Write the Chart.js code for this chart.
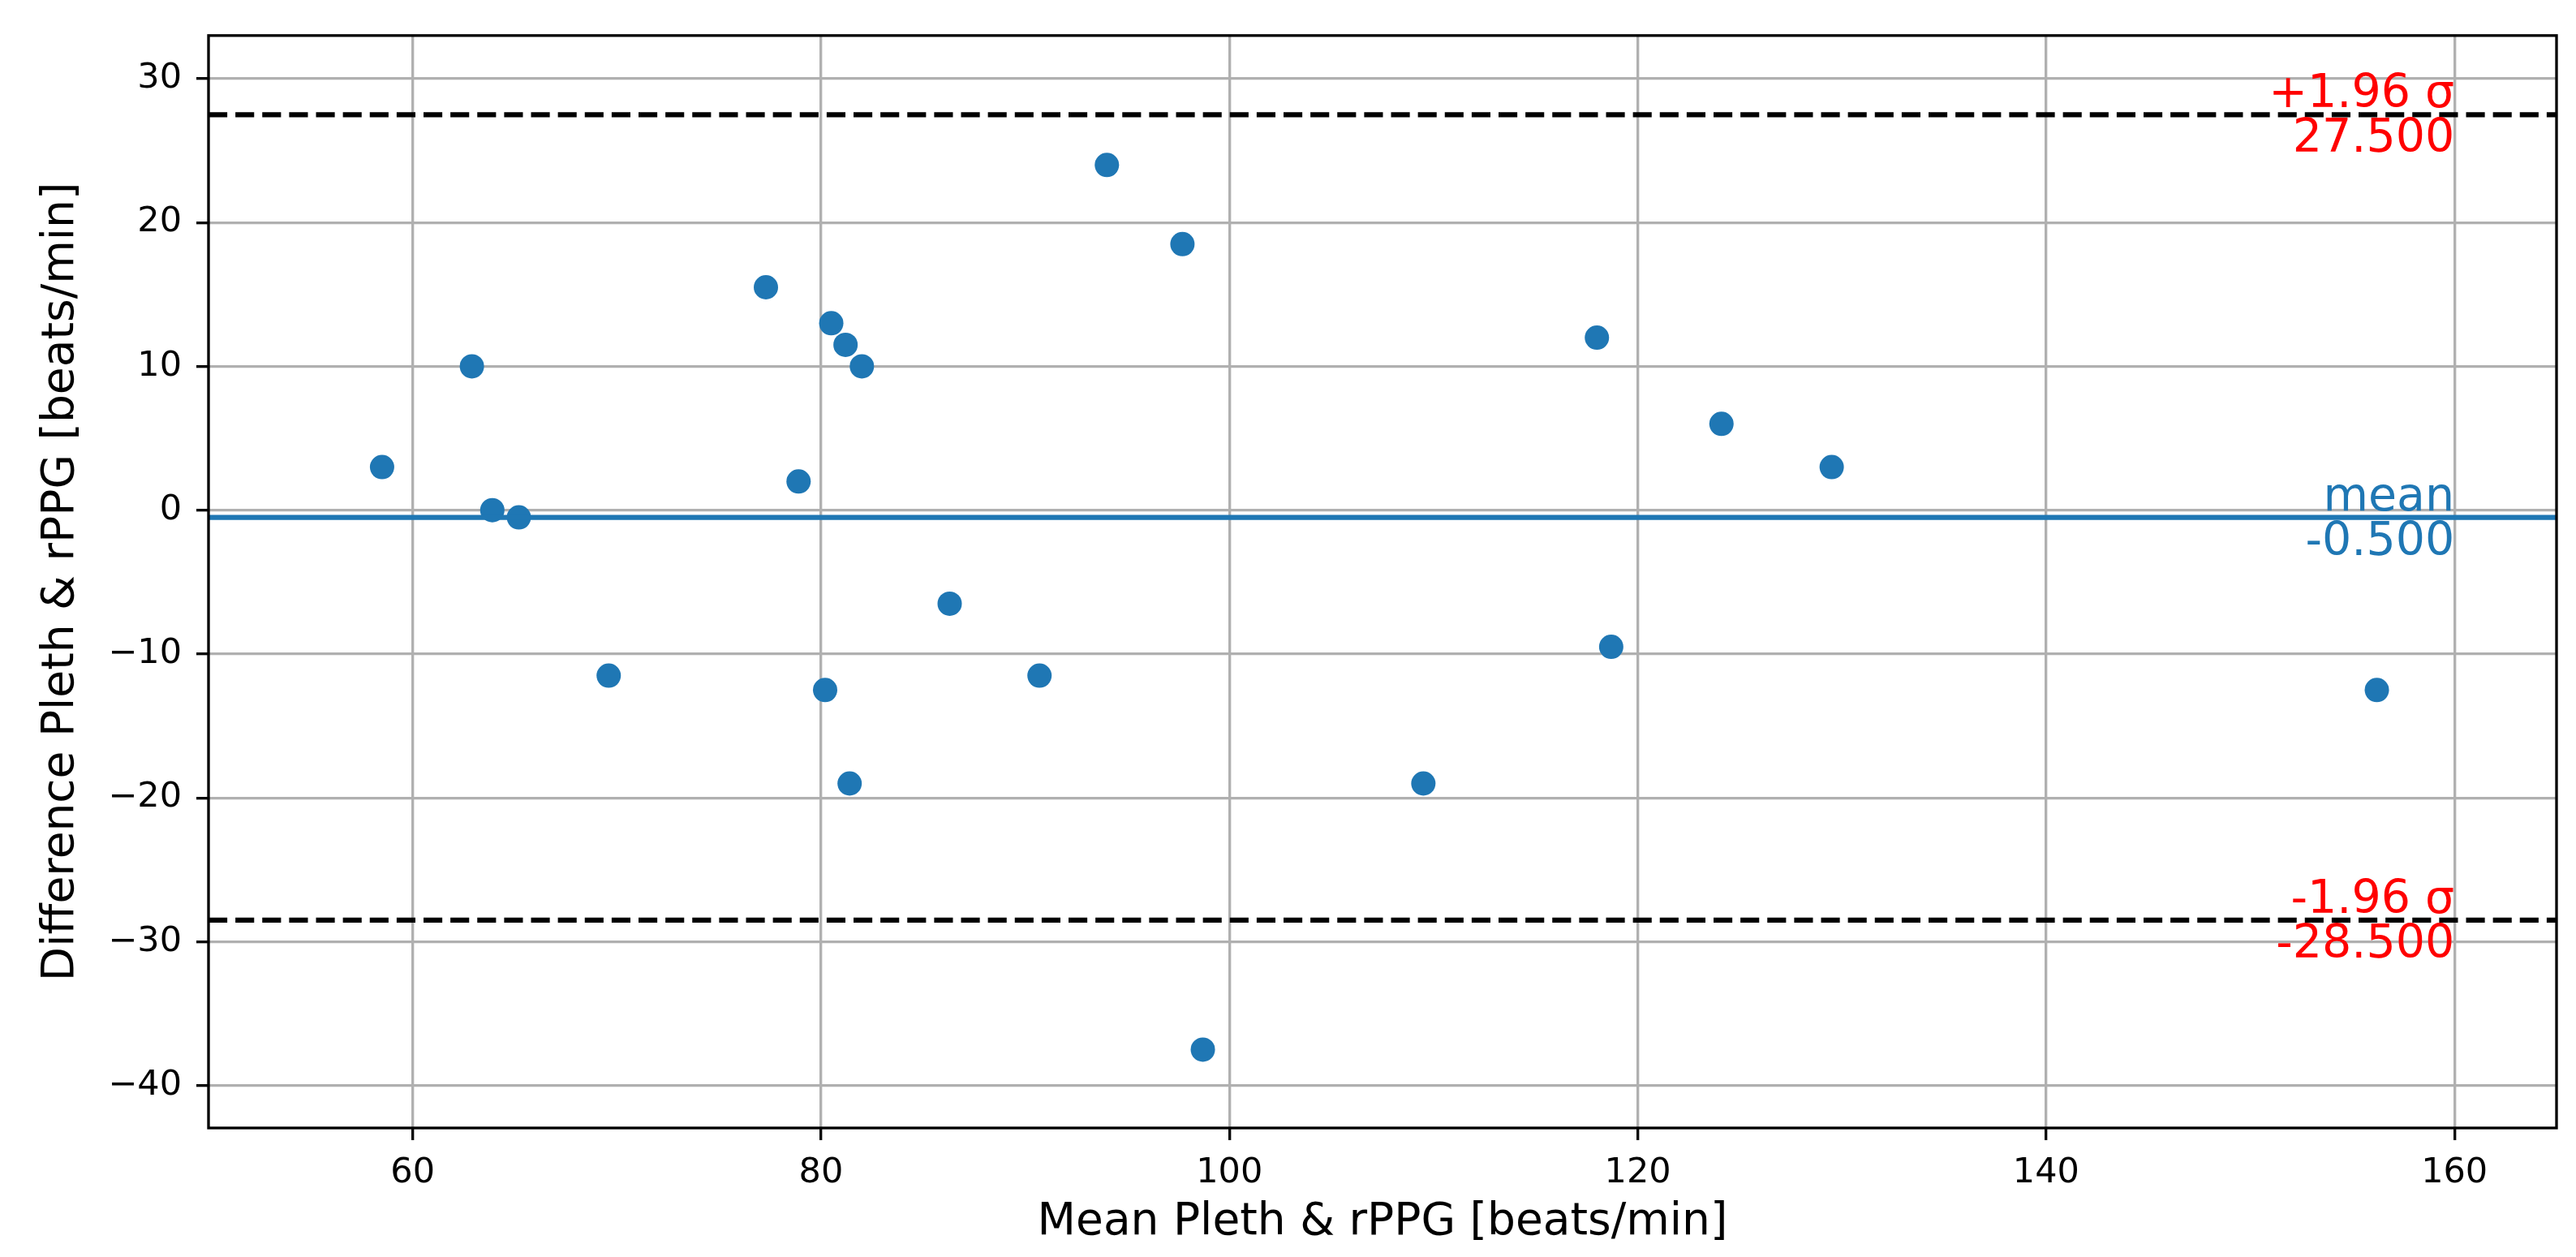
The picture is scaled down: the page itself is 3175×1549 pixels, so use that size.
<!DOCTYPE html>
<html>
<head>
<meta charset="utf-8">
<script src="https://cdn.jsdelivr.net/npm/chart.js@4/dist/chart.umd.min.js"></script>
<style>
  html, body { margin: 0; padding: 0; background: #fff; }
  #wrap { width: 3175px; height: 1549px; position: relative; }
</style>
</head>
<body>
<div id="wrap"><canvas id="chart"></canvas></div>
<script>
// Bland-Altman data: mean of the two readings vs their difference
const meanVals = [58.5, 62.9, 63.9, 65.2, 69.6, 77.3, 78.9, 80.5, 81.2, 82.0, 80.2, 81.4,
  86.3, 90.7, 94.0, 97.7, 98.7, 109.5, 118.0, 118.7, 124.1, 129.5, 156.2];
const diffVals = [3, 10, 0, -0.5, -11.5, 15.5, 2, 13, 11.5, 10, -12.5, -19,
  -6.5, -11.5, 24, 18.5, -37.5, -19, 12, -9.5, 6, 3, -12.5];

// reference lines (mean and +-1.96 sigma limits)
const limitVals = [27.5, -0.5, -28.5];
const limitNames = ['+1.96 σ', 'mean', '-1.96 σ'];

// axes
const xTicks = [60, 80, 100, 120, 140, 160];
const yTicks = [-40, -30, -20, -10, 0, 10, 20, 30];
const xRange = [50, 165];
const yRange = [-42.95, 33.0];

const FONT = "'DejaVu Sans', sans-serif";
const BLUE = '#1f77b4';
const px = 300 / 72; // matplotlib points -> pixels at 300 dpi

const points = meanVals.map((m, i) => ({ x: m, y: diffVals[i] }));

//draws the horizontal limit lines, their labels and the axes frame
const limitsPlugin = {
  id: 'limits',
  afterDatasetsDraw(chart) {
    const { ctx, chartArea: a, scales: { x, y } } = chart;
    const textRight = x.getPixelForValue(160);
    ctx.save();
    limitVals.forEach((v, i) => {
      const yy = y.getPixelForValue(v);
      const isMean = limitNames[i] === 'mean';
      ctx.beginPath();
      ctx.lineWidth = 1.5 * px;
      ctx.strokeStyle = isMean ? BLUE : '#000';
      ctx.setLineDash(isMean ? [] : [3.7 * 1.5 * px, 1.6 * 1.5 * px]);
      ctx.moveTo(a.left, yy);
      ctx.lineTo(a.right, yy);
      ctx.stroke();

      ctx.setLineDash([]);
      ctx.font = `57px ${FONT}`;
      ctx.fillStyle = isMean ? BLUE : '#ff0000';
      ctx.textAlign = 'right';
      ctx.textBaseline = 'alphabetic';
      ctx.fillText(limitNames[i], textRight, yy - 9);
      ctx.fillText(v.toFixed(3), textRight, yy + 46);
    });
    ctx.restore();
  },
  afterDraw(chart) {
    const { ctx, chartArea: a } = chart;
    ctx.save();
    ctx.lineWidth = 0.8 * px;
    ctx.strokeStyle = '#000';
    ctx.strokeRect(a.left, a.top, a.right - a.left, a.bottom - a.top);
    ctx.restore();
  }
};

const minus = v => (v < 0 ? '\u2212' + Math.abs(v) : String(v));

const gridOpts = {
  color: '#b0b0b0',
  lineWidth: 0.8 * px,
  drawTicks: true,
  tickLength: 15,
  tickColor: '#000',
  tickWidth: 0.8 * px
};

new Chart(document.getElementById('chart'), {
  type: 'scatter',
  data: {
    datasets: [{
      label: 'diff',
      data: points,
      backgroundColor: BLUE,
      borderWidth: 0,
      pointRadius: 15,
      pointHoverRadius: 15
    }]
  },
  options: {
    responsive: true,
    maintainAspectRatio: false,
    animation: false,
    devicePixelRatio: 1,
    layout: { padding: { left: 0, right: 24, top: 41, bottom: 0 } },
    plugins: { legend: { display: false }, tooltip: { enabled: false } },
    scales: {
      x: {
        type: 'linear',
        min: xRange[0],
        max: xRange[1],
        afterBuildTicks: s => { s.ticks = xTicks.map(v => ({ value: v })); },
        afterFit: s => { s.height = 159; },
        grid: gridOpts,
        border: { display: false },
        ticks: { color: '#000', font: { family: FONT, size: 43 }, padding: 15, maxRotation: 0, callback: v => minus(v) },
        title: {
          display: true,
          text: 'Mean Pleth & rPPG [beats/min]',
          color: '#000',
          font: { family: FONT, size: 55 },
          padding: { top: 0, bottom: 9 }
        }
      },
      y: {
        type: 'linear',
        min: yRange[0],
        max: yRange[1],
        afterBuildTicks: s => { s.ticks = yTicks.map(v => ({ value: v })); },
        afterFit: s => { s.width = 257; },
        grid: gridOpts,
        border: { display: false },
        ticks: { color: '#000', font: { family: FONT, size: 43 }, padding: 18, callback: v => minus(v) },
        title: {
          display: true,
          text: 'Difference Pleth & rPPG [beats/min]',
          color: '#000',
          font: { family: FONT, size: 55 },
          padding: { top: 43, bottom: 0 }
        }
      }
    }
  },
  plugins: [limitsPlugin]
});
</script>
</body>
</html>
